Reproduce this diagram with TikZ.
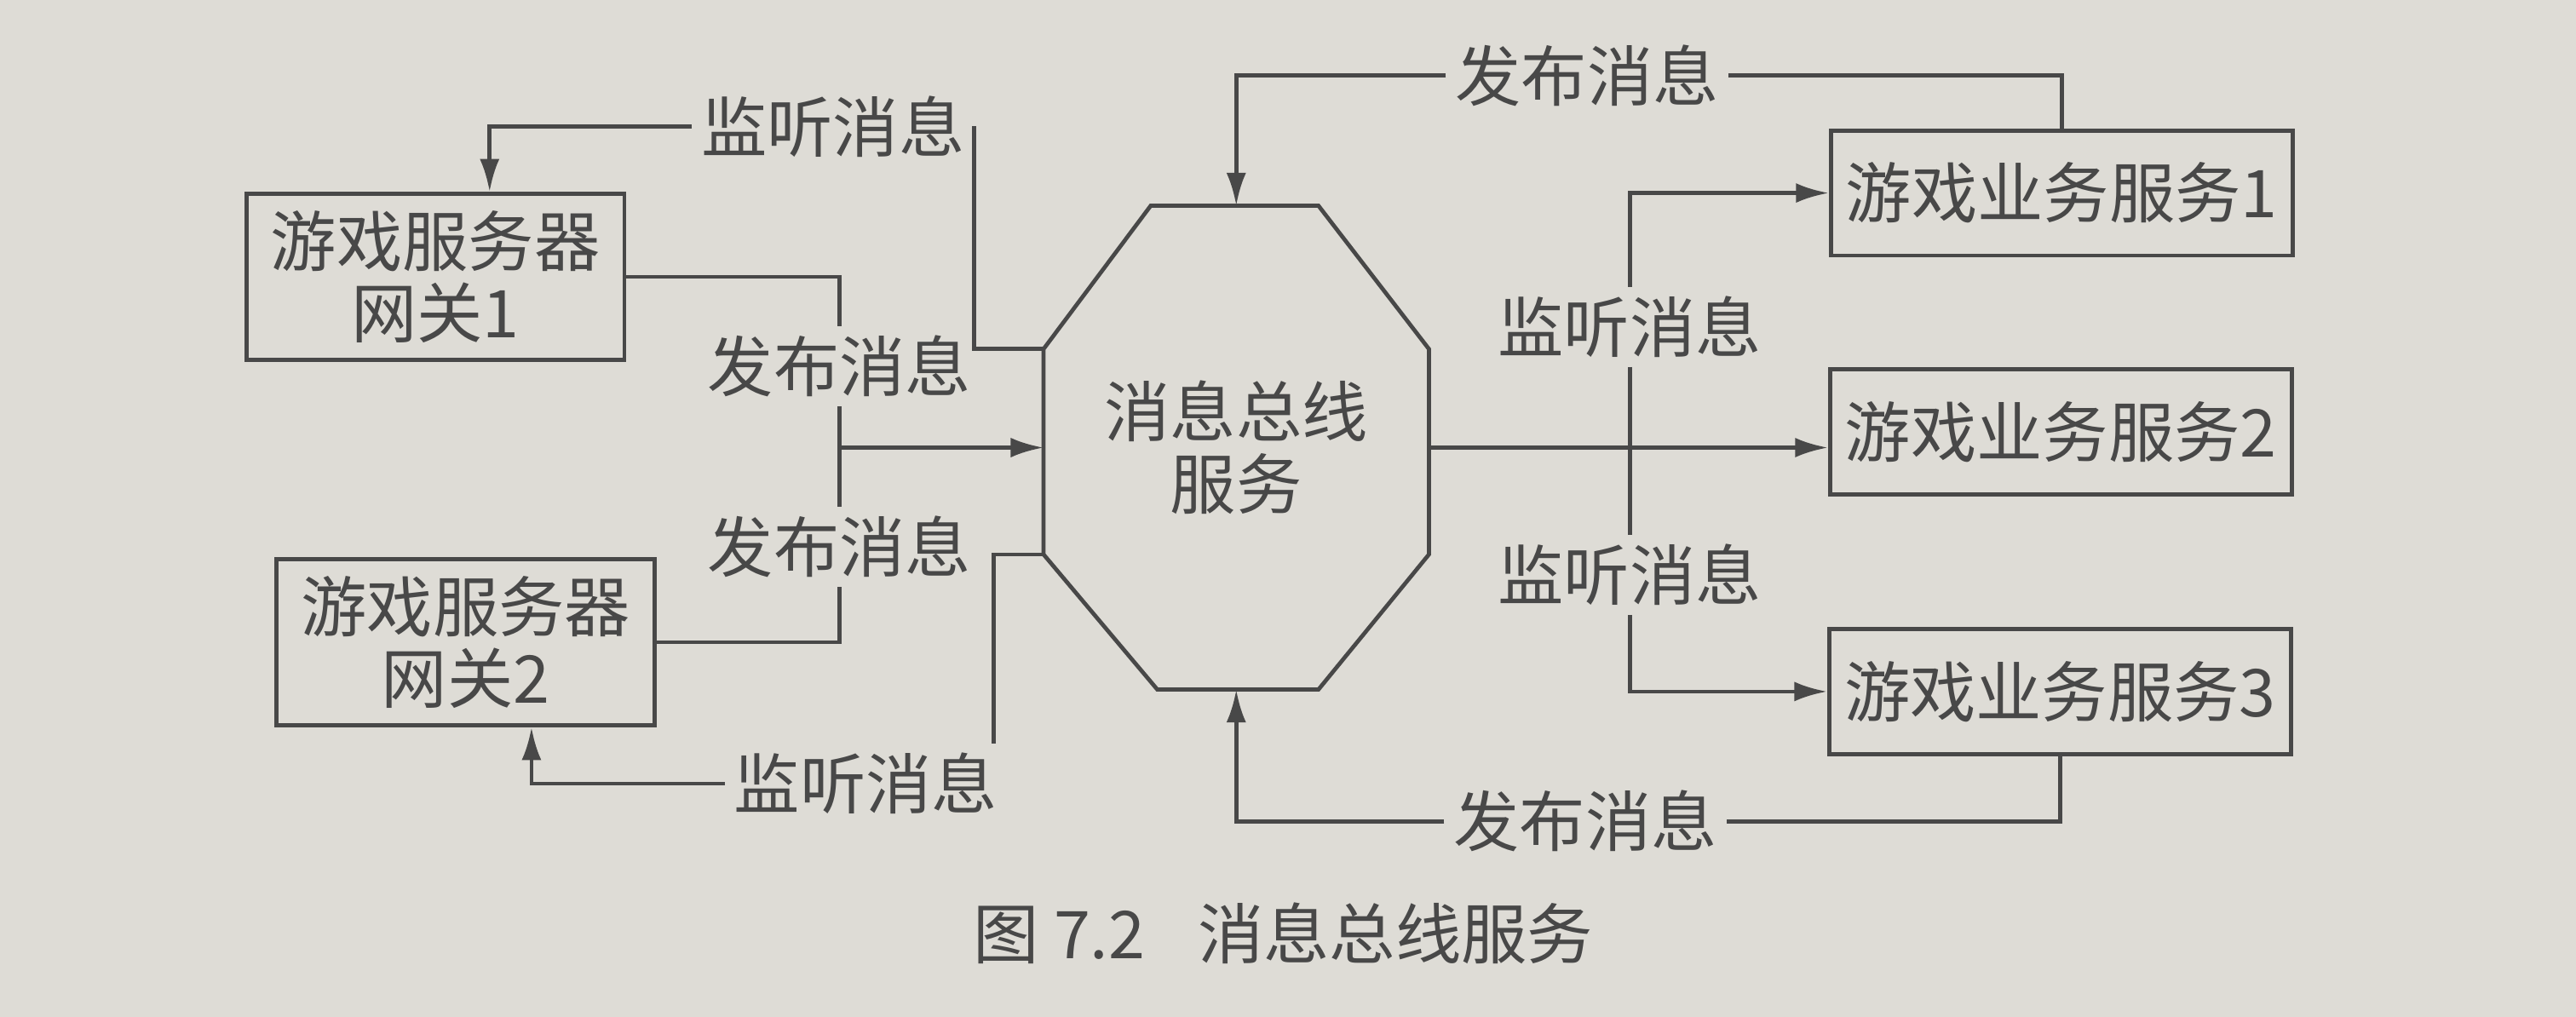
\documentclass[tikz,border=0pt]{standalone}
\usepackage{fontspec}
\setmainfont{Noto Sans CJK SC}
\usepackage{xcolor}
\usepackage{tikz}
\usetikzlibrary{arrows.meta}
\definecolor{paper}{RGB}{222,220,214}
\definecolor{ink}{RGB}{72,72,72}

\begin{document}
\begin{tikzpicture}[
                        x=0.01cm,
                        y=-0.01cm,
                        every node/.style={
                                font=\fontsize{11.4}{12.5}\selectfont,
                                text=ink,
                                inner sep=0.05cm,
                            },
                        line/.style={draw=ink, line width=0.7pt},
                        arr/.style={line, -{Latex[length=0.2cm,width=0.12cm]}},
                        gatebox/.style={line, minimum width=2.30cm, minimum height=1.01cm, align=center},
                        appbox/.style={line, minimum width=2.81cm, minimum height=0.76cm},
                    ]

                    \fill[paper] (0,0) rectangle (1568,619);

                    \node[gatebox] (gw1) at (265,168.5) {游戏服务器\\网关1};
                    \node[gatebox] (gw2) at (283.5,391) {游戏服务器\\网关2};
                    \node[minimum width=2.33cm, minimum height=2.93cm, align=center] (bus) at (752.5,272.5) {消息总线\\服务};
                    \node[appbox] (app1) at (1255,117.5) {游戏业务服务1};
                    \node[appbox] (app2) at (1254.5,263) {游戏业务服务2};
                    \node[appbox] (app3) at (1254,421) {游戏业务服务3};

                    \draw[line] ([xshift=-0.52cm]bus.north) -- ([xshift=0.5cm]bus.north)
                    -- ([yshift=0.6cm]bus.east) -- ([yshift=-0.65cm]bus.east)
                    -- ([xshift=0.5cm]bus.south) -- ([xshift=-0.48cm]bus.south)
                    -- ([yshift=-0.65cm]bus.west) -- ([yshift=0.6cm]bus.west) -- cycle;

                    \node (lnA) at (507,77) {监听消息};
                    \node (pbA) at (511,223) {发布消息};
                    \node (pbB) at (511,333) {发布消息};
                    \node (lnB) at (527,477) {监听消息};
                    \node (pbC) at (966,46) {发布消息};
                    \node (lnC) at (992,199) {监听消息};
                    \node (lnD) at (992,350) {监听消息};
                    \node (pbD) at (965,500) {发布消息};

                    \draw[arr] (lnA.west) -| ([xshift=0.33cm]gw1.north);
                    \draw[line] ([yshift=0.6cm]bus.west) -| (lnA.east);
                    \draw[line] (gw1.east) -| (pbA.north);
                    \draw[line] (pbA.south) -- (pbB.north);
                    \draw[arr] (pbA.south |- bus.west) -- (bus.west);
                    \draw[line] (gw2.east) -| (pbB.south);
                    \draw[line] ([yshift=-0.65cm]bus.west) -| ([xshift=-0.08cm]lnB.north east);
                    \draw[arr] (lnB.west) -| ([xshift=0.4cm]gw2.south);

                    \draw[line] (app1.north) |- (pbC.east);
                    \draw[arr] (pbC.west) -| (bus.north);
                    \draw[arr] (lnC.north) |- (app1.west);
                    \draw[line] (lnC.south) -- (lnD.north);
                    \draw[arr] (lnD.south) |- (app3.west);
                    \draw[arr] (bus.east) -- (bus.east -| app2.west);
                    \draw[line] (app3.south) |- (pbD.east);
                    \draw[arr] (pbD.west) -| (bus.south);

                    \node (cap) at (781,568) {图 7.2\hspace{0.8em}消息总线服务};
                \end{tikzpicture}
\end{document}
